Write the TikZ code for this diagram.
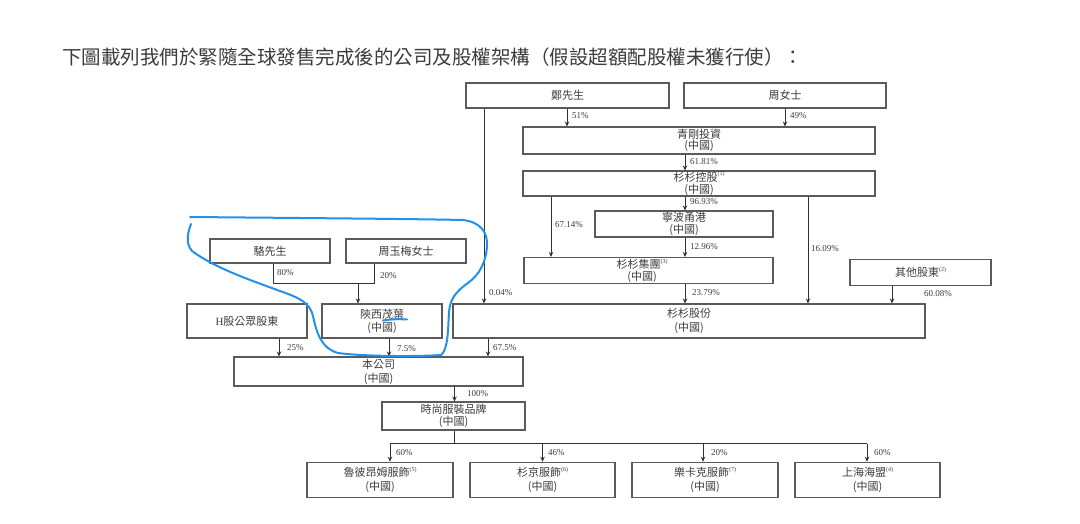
\documentclass[tikz,border=0pt]{standalone}
\usepackage{fontspec}
\setmainfont{Liberation Serif}
\newfontfamily\cjk{Noto Sans CJK TC}
\usetikzlibrary{arrows.meta}
\definecolor{boxgray}{RGB}{90,90,90}
\definecolor{txtgray}{RGB}{60,60,60}
\definecolor{linegray}{RGB}{50,50,50}
\definecolor{penblue}{RGB}{35,145,235}
\newcommand{\supn}[1]{\raisebox{0.9ex}{\rmfamily\fontsize{6}{6}\selectfont #1}}
\begin{document}
\begin{tikzpicture}[x=1pt,y=-1pt,
  bx/.style={draw=boxgray, line width=1.1pt, text=txtgray, align=center, inner sep=0pt, anchor=center,
             font=\cjk\fontsize{11}{11.8}\selectfont},
  bxw/.style={bx, font=\cjk\fontsize{11}{14}\selectfont},
  bxb/.style={bx, font=\cjk\fontsize{11}{13.5}\selectfont},
  lbl/.style={text=txtgray, align=center, inner sep=0pt, font=\cjk\fontsize{11}{11.8}\selectfont},
  pct/.style={font=\rmfamily\fontsize{9}{9}\selectfont, text=txtgray, anchor=west, inner sep=0pt},
  arr/.style={draw=linegray, line width=0.9pt, -{Stealth[length=5pt,width=4.5pt]}},
  ln/.style={draw=linegray, line width=0.9pt},
  pen/.style={draw=penblue, line width=2pt, line cap=round, line join=round}]
\useasboundingbox (0,0) rectangle (1080,524);
\fill[white] (0,0) rectangle (1080,524);

% title
\node[anchor=west, inner sep=0pt, text=txtgray, font=\cjk\fontsize{19.5}{20}\selectfont] (title) at (62,57)
  {下圖載列我們於緊隨全球發售完成後的公司及股權架構（假設超額配股權未獲行使）：};

% boxes
\node[bx, minimum width=203pt, minimum height=25pt] (zheng) at (567.5,95.5) {鄭先生};
\node[bx, minimum width=202pt, minimum height=25pt] (zhou) at (785,95.5) {周女士};
\node[bx, minimum width=352pt, minimum height=27pt] (qg) at (699,140.5) {青剛投資\\(中國)};
\node[bx, minimum width=352pt, minimum height=25pt] (sskg) at (699,183.5) {杉杉控股\supn{(1)}\\(中國)};
\node[bx, minimum width=178pt, minimum height=26pt] (nb) at (684,224) {寧波甬港\\(中國)};
\node[bx, minimum width=249pt, minimum height=26pt] (ssjt) at (648.5,270.5) {};
\node[lbl] (ssjtl) at (642,271) {杉杉集團\supn{(3)}\\(中國)};
\node[bx, minimum width=141pt, minimum height=26pt] (other) at (920.5,272.3) {其他股東\supn{(2)}};
\node[bxw, minimum width=472pt, minimum height=34pt] (ssgf) at (689,321) {杉杉股份\\(中國)};
\node[bx, minimum width=120pt, minimum height=24pt] (luo) at (270,251) {駱先生};
\node[bx, minimum width=120pt, minimum height=24pt] (zym) at (406,251) {周玉梅女士};
\node[bx, minimum width=120pt, minimum height=34pt] (hs) at (247,321) {{\rmfamily H}股公眾股東};
\node[bx, font=\cjk\fontsize{11}{13}\selectfont, minimum width=120pt, minimum height=34pt] (sx) at (382,321) {陝西茂葉\\(中國)};
\node[bxw, minimum width=289pt, minimum height=29pt] (bgs) at (378.5,371.5) {本公司\\(中國)};
\node[bx, minimum width=143pt, minimum height=28pt] (sszb) at (453.5,416) {時尚服裝品牌\\(中國)};
\node[bxb, minimum width=146pt, minimum height=35.5pt] (b1) at (380,480) {魯彼昂姆服飾\supn{(5)}\\(中國)};
\node[bxb, minimum width=145pt, minimum height=35.5pt] (b2) at (542.5,480) {杉京服飾\supn{(6)}\\(中國)};
\node[bxb, minimum width=146pt, minimum height=35.5pt] (b3) at (705,480) {樂卡克服飾\supn{(7)}\\(中國)};
\node[bxb, minimum width=145pt, minimum height=35.5pt] (b4) at (867.5,480) {上海海盟\supn{(4)}\\(中國)};

% x positions of connectors
\coordinate (x51) at (567,0);
\coordinate (x49) at (785,0);
\coordinate (xmid) at (685,0);
\coordinate (x67) at (551,0);
\coordinate (x16) at (808,0);
\coordinate (xoth) at (892,0);
\coordinate (xzh) at (484,0);
\coordinate (xl) at (273,0);
\coordinate (xz) at (374,0);
\coordinate (xs) at (358,0);
\coordinate (jy) at (0,283);
\coordinate (xh) at (279,0);
\coordinate (x75) at (389,0);
\coordinate (x675) at (488,0);
\coordinate (x100) at (454.5,0);
\coordinate (busy) at (0,443.5);
\coordinate (xb1) at (390,0);
\coordinate (xb2) at (542.5,0);
\coordinate (xb3) at (703,0);
\coordinate (xb4) at (867,0);

% connectors
\draw[arr] (zheng.south -| x51) -- (qg.north -| x51);
\node[pct] at (572,116) {51\%};
\draw[arr] (zhou.south -| x49) -- (qg.north -| x49);
\node[pct] at (790,116) {49\%};
\draw[arr] (qg.south -| xmid) -- (sskg.north -| xmid);
\node[pct] at (690,162) {61.81\%};
\draw[arr] (sskg.south -| xmid) -- (nb.north -| xmid);
\node[pct] at (690,202) {96.93\%};
\draw[arr] (sskg.south -| x67) -- (ssjt.north -| x67);
\node[pct] at (555,224.5) {67.14\%};
\draw[arr] (nb.south -| xmid) -- (ssjt.north -| xmid);
\node[pct] at (690,247) {12.96\%};
\draw[arr] (sskg.south -| x16) -- (ssgf.north -| x16);
\node[pct] at (811,249) {16.09\%};
\draw[arr] (ssjt.south -| xmid) -- (ssgf.north -| xmid);
\node[pct] at (692,293) {23.79\%};
\draw[arr] (other.south -| xoth) -- (ssgf.north -| xoth);
\node[pct] at (924,293.5) {60.08\%};
\draw[arr] (zheng.south -| xzh) -- (ssgf.north -| xzh);
\node[pct] at (489,293) {0.04\%};

\draw[ln] (luo.south -| xl) -- (xl |- jy) -- (xz |- jy) -- (zym.south -| xz);
\draw[arr] (xs |- jy) -- (sx.north -| xs);
\node[pct] at (277,273) {80\%};
\node[pct] at (380,276) {20\%};

\draw[arr] (hs.south -| xh) -- (bgs.north -| xh);
\node[pct] at (287,348) {25\%};
\draw[arr] (sx.south -| x75) -- (bgs.north -| x75);
\node[pct] at (397,348.5) {7.5\%};
\draw[arr] (ssgf.south -| x675) -- (bgs.north -| x675);
\node[pct] at (493,348) {67.5\%};
\draw[arr] (bgs.south -| x100) -- (sszb.north -| x100);
\node[pct] at (467,393.5) {100\%};

\draw[ln] (sszb.south -| x100) -- (x100 |- busy);
\draw[ln] (xb1 |- busy) -- (xb4 |- busy);
\draw[arr] (xb1 |- busy) -- (b1.north -| xb1);
\draw[arr] (xb2 |- busy) -- (b2.north -| xb2);
\draw[arr] (xb3 |- busy) -- (b3.north -| xb3);
\draw[arr] (xb4 |- busy) -- (b4.north -| xb4);
\node[pct] at (396,453) {60\%};
\node[pct] at (548,453) {46\%};
\node[pct] at (711,453) {20\%};
\node[pct] at (874,453) {60\%};

% hand-drawn blue annotation
\draw[pen] (190,217) .. controls (300,218) and (420,219) .. (463,220)
  .. controls (480,222) and (488,232) .. (487,246)
  .. controls (486,262) and (480,274) .. (468,283)
  .. controls (455,292) and (450,300) .. (449,312)
  .. controls (448,330) and (448,350) .. (441,355)
  .. controls (410,357) and (360,356) .. (338,353)
  .. controls (320,348) and (316,330) .. (313,316)
  .. controls (310,303) and (300,298) .. (280,291)
  .. controls (250,280) and (215,268) .. (192,251)
  .. controls (185,243) and (188,232) .. (191,224);
\draw[pen] (383,320.5) .. controls (392,319) and (400,319) .. (407,319.5);
\end{tikzpicture}
\end{document}
